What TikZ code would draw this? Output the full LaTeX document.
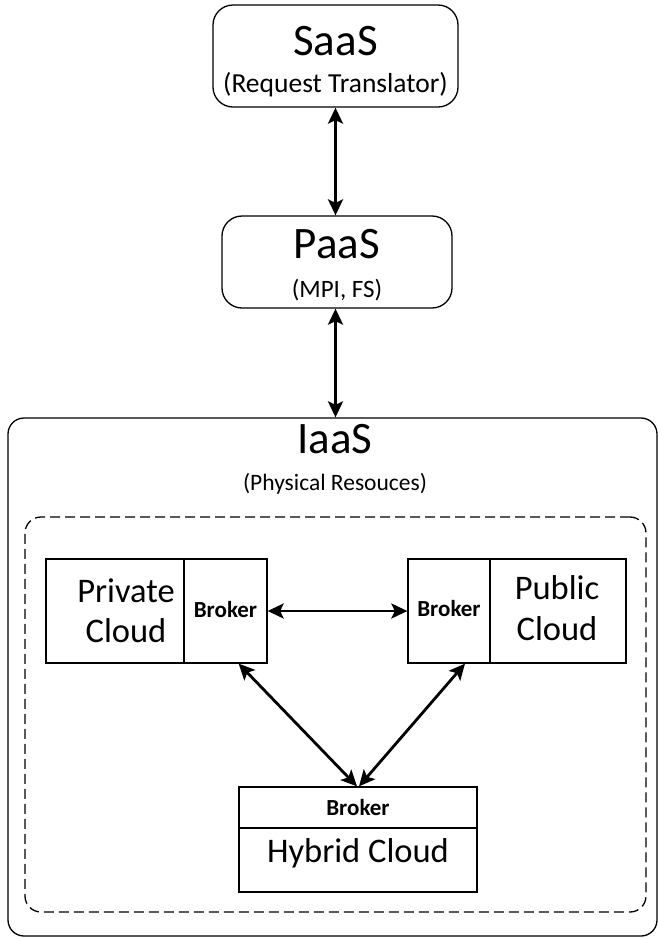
\documentclass[tikz,border=0pt]{standalone}
\usepackage{fontspec}
\setmainfont{Carlito}
\usetikzlibrary{arrows.meta}
\tikzset{
  rbox/.style={draw, line width=1.3pt, rounded corners=20pt, inner sep=0pt},
  sbox/.style={draw, line width=1.3pt, inner sep=0pt},
  arr/.style={line width=2.8pt, {Stealth[length=16pt,width=15pt,inset=3.5pt]}-{Stealth[length=16pt,width=15pt,inset=3.5pt]}},
  big/.style={font=\fontsize{45}{48}\selectfont, anchor=base, inner sep=0pt},
  sub/.style={font=\fontsize{27.5}{30}\selectfont, anchor=base, inner sep=0pt},
  cloudtxt/.style={font=\fontsize{34.5}{38}\selectfont, anchor=base, inner sep=0pt},
  brk/.style={font=\bfseries\fontsize{23}{26}\selectfont, anchor=base, inner sep=0pt}
}
\begin{document}
\begin{tikzpicture}[x=1pt,y=-1pt]
\useasboundingbox (0,0) rectangle (658,938);
% outer boxes
\node[rbox, rounded corners=16pt, minimum width=649pt, minimum height=518pt] (iaas) at (332.5,677) {};
\node[draw, dashed, dash pattern=on 10pt off 5pt, line width=1.3pt, rounded corners=16pt, inner sep=0pt, minimum width=621pt, minimum height=395pt] (dash) at (335.5,714.5) {};
% SaaS / PaaS
\node[rbox, minimum width=245pt, minimum height=102pt] (saas) at (335.5,56) {};
\node[big] (saast) at (335.5,55) {SaaS};
\node[sub] (saass) at (335.5,92) {(Request Translator)};
\node[rbox, minimum width=230pt, minimum height=92pt] (paas) at (337,262) {};
\node[big] (paast) at (337,258) {PaaS};
\node[sub, font=\fontsize{25}{28}\selectfont] (paass) at (337,297) {(MPI, FS)};
\node[big] (iaast) at (335,453) {IaaS};
\node[sub, font=\fontsize{23.5}{26}\selectfont] (iaass) at (335,490) {(Physical Resouces)};
% private cloud
\node[sbox, minimum width=138pt, minimum height=104pt] (priv) at (115,611) {};
\node[sbox, minimum width=83pt, minimum height=104pt] (privb) at (225.5,611) {};
\node[cloudtxt] (privt1) at (126,602) {Private};
\node[cloudtxt] (privt2) at (126,642) {Cloud};
\node[brk] (privbt) at (225.5,617) {Broker};
% public cloud
\node[sbox, minimum width=82pt, minimum height=104pt] (pubb) at (449,611) {};
\node[sbox, minimum width=136pt, minimum height=104pt] (pub) at (558,611) {};
\node[cloudtxt] (pubt1) at (557,599) {Public};
\node[cloudtxt] (pubt2) at (557,640) {Cloud};
\node[brk] (pubbt) at (449,616) {Broker};
% hybrid cloud
\node[sbox, minimum width=238pt, minimum height=41pt] (hybb) at (358,807.5) {};
\node[sbox, minimum width=238pt, minimum height=64pt] (hyb) at (358,860) {};
\node[brk] (hybbt) at (358,815) {Broker};
\node[cloudtxt] (hybt) at (358,862) {Hybrid Cloud};
% connectors
\draw[arr] (saas.south) -- (saas.south |- paas.north);
\draw[arr] (paas.south -| saas.south) -- (saas.south |- iaas.north);
\draw[arr] (privb.east) -- (pubb.west);
\draw[arr] ([xshift=-29pt]privb.south east) -- ([xshift=-1pt]hybb.north);
\draw[arr] ([xshift=16pt]pubb.south) -- ([xshift=1pt]hybb.north);
\end{tikzpicture}
\end{document}
